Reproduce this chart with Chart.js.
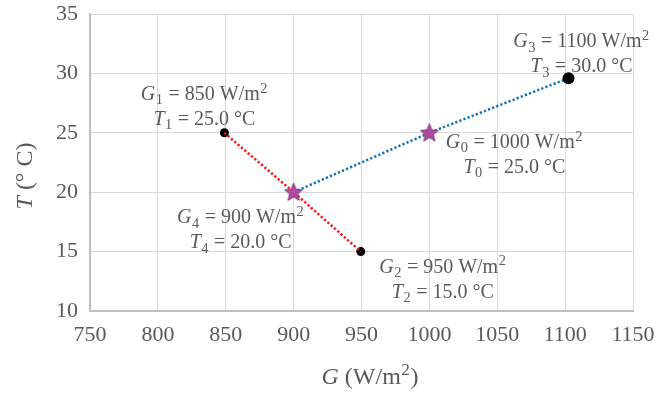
<!DOCTYPE html>
<html><head><meta charset="utf-8">
<script src="https://cdn.jsdelivr.net/npm/chart.js@4/dist/chart.umd.min.js"></script>
<style>html,body{margin:0;padding:0;background:#fff}</style>
</head><body>
<canvas id="c" width="667" height="393"></canvas>
<script>
// ---- data ----
const xTickValues = [750, 800, 850, 900, 950, 1000, 1050, 1100, 1150];
const yTickValues = [10, 15, 20, 25, 30, 35];
const redLineG = [849, 900, 949.5];
const redLineT = [25, 20, 15];
const blueLineG = [900, 1000, 1102.5];
const blueLineT = [20, 25, 29.6];
const dotG = [849, 949.5, 1102.5];
const dotT = [25, 15, 29.6];
const dotSize = [4.5, 4.5, 6];
const starG = [900, 1000];
const starT = [20, 25];
const labelIndex = ['1', '3', '0', '4', '2'];
const labelG = [850, 1100, 1000, 900, 950];
const labelT = [25.0, 30.0, 25.0, 20.0, 15.0];
const labelAtG = [849, 1102.5, 1000, 900, 949.5];
const labelAtT = [25, 29.6, 25, 20, 15];

// ---- styles ----
const FONT = '"Liberation Serif", "Times New Roman", serif';
const TXT = '#595959';
const labelOffsets = [[-20, -33], [13, -31], [85, 15], [-53, 31], [82, 21]];

function makeStar() {
  const c = document.createElement('canvas');
  c.width = 22; c.height = 22;
  const g = c.getContext('2d');
  g.beginPath();
  for (let i = 0; i < 10; i++) {
    const r = i % 2 === 0 ? 9.5 : 4.2;
    const a = -Math.PI / 2 + i * Math.PI / 5;
    const x = 11 + r * Math.cos(a), y = 11.5 + r * Math.sin(a);
    i === 0 ? g.moveTo(x, y) : g.lineTo(x, y);
  }
  g.closePath();
  g.fillStyle = '#b04c9f';
  g.fill();
  g.strokeStyle = '#7d3a78';
  g.lineWidth = 1;
  g.stroke();
  return c;
}
const starImg = makeStar();

function pts(xs, ys) { return xs.map((x, i) => ({x: x, y: ys[i]})); }

// rich text: segments [text, italic, shift]
function segWidth(ctx, segs, size) {
  let w = 0;
  for (const s of segs) {
    const sz = s[2] ? size * 0.72 : size;
    ctx.font = (s[1] ? 'italic ' : '') + sz + 'px ' + FONT;
    w += ctx.measureText(s[0]).width + (s[2] ? 1 : 0);
  }
  return w;
}
function drawSegs(ctx, segs, cx, by, size) {
  let x = cx - segWidth(ctx, segs, size) / 2;
  ctx.textAlign = 'left';
  ctx.textBaseline = 'alphabetic';
  ctx.fillStyle = TXT;
  for (const s of segs) {
    const sz = s[2] ? size * 0.72 : size;
    ctx.font = (s[1] ? 'italic ' : '') + sz + 'px ' + FONT;
    const dy = s[2] === 'sub' ? size * 0.22 : (s[2] === 'sup' ? -size * 0.36 : 0);
    ctx.fillText(s[0], x + (s[2] ? 0.5 : 0), by + dy);
    x += ctx.measureText(s[0]).width + (s[2] ? 1 : 0);
  }
}

const annotPlugin = {
  id: 'annot',
  afterDraw(chart) {
    const ctx = chart.ctx, xs = chart.scales.x, ys = chart.scales.y;
    ctx.save();
    const size = 20;
    labelIndex.forEach((k, i) => {
      const px = xs.getPixelForValue(labelAtG[i]);
      const py = ys.getPixelForValue(labelAtT[i]);
      const cx = px + labelOffsets[i][0];
      const by = py + labelOffsets[i][1];
      drawSegs(ctx, [['G', true], [k, false, 'sub'], [' = ' + labelG[i] + ' W/m', false], ['2', false, 'sup']], cx, by, size);
      drawSegs(ctx, [['T', true], [k, false, 'sub'], [' = ' + labelT[i].toFixed(1) + ' \u00B0C', false]], cx, by + 25, size);
    });
    // axis titles
    drawSegs(ctx, [['G', true], [' (W/m', false], ['2', false, 'sup'], [')', false]], 370, 384, 24);
    ctx.translate(32, 176);
    ctx.rotate(-Math.PI / 2);
    drawSegs(ctx, [['T', true], [' (\u00B0 C)', false]], 0, 0, 24);
    ctx.restore();
  }
};

new Chart(document.getElementById('c'), {
  type: 'scatter',
  data: {
    datasets: [
      {data: pts(starG, starT), pointStyle: starImg, showLine: false, order: 0},
      {data: pts(redLineG, redLineT), showLine: true, borderColor: '#ff1010', borderWidth: 2.5,
       borderDash: [2.2, 2.2], pointRadius: 0, order: 1},
      {data: pts(dotG, dotT), showLine: false, pointRadius: dotSize, backgroundColor: '#000', borderColor: '#000',
       borderWidth: 0, order: 2},
      {data: pts(blueLineG, blueLineT), showLine: true, borderColor: '#0a6fc2', borderWidth: 2.5,
       borderDash: [2.2, 2.2], pointRadius: 0, order: 3}
    ]
  },
  options: {
    responsive: false,
    animation: false,
    devicePixelRatio: 1,
    layout: {padding: {left: 0, right: 34, top: 14, bottom: 0}},
    plugins: {legend: {display: false}, tooltip: {enabled: false}},
    scales: {
      x: {
        type: 'linear', min: 750, max: 1150,
        afterBuildTicks: s => { s.ticks = xTickValues.map(v => ({value: v})); },
        afterFit: s => { s.height = 82; s.paddingLeft = 0; s.paddingRight = 0; },
        grid: {color: '#d9d9d9', lineWidth: 1, drawTicks: false},
        border: {color: '#bfbfbf', width: 2},
        ticks: {color: TXT, font: {family: FONT, size: 22}, padding: 11, maxRotation: 0,
                callback: v => String(v)}
      },
      y: {
        type: 'linear', min: 10, max: 35,
        afterBuildTicks: s => { s.ticks = yTickValues.map(v => ({value: v})); },
        afterFit: s => { s.width = 90; s.paddingTop = 0; s.paddingBottom = 0; },
        grid: {color: '#d9d9d9', lineWidth: 1, drawTicks: false},
        border: {color: '#bfbfbf', width: 2},
        ticks: {color: TXT, font: {family: FONT, size: 22}, padding: 12, callback: v => String(v)}
      }
    }
  },
  plugins: [annotPlugin]
});
</script>
</body></html>
